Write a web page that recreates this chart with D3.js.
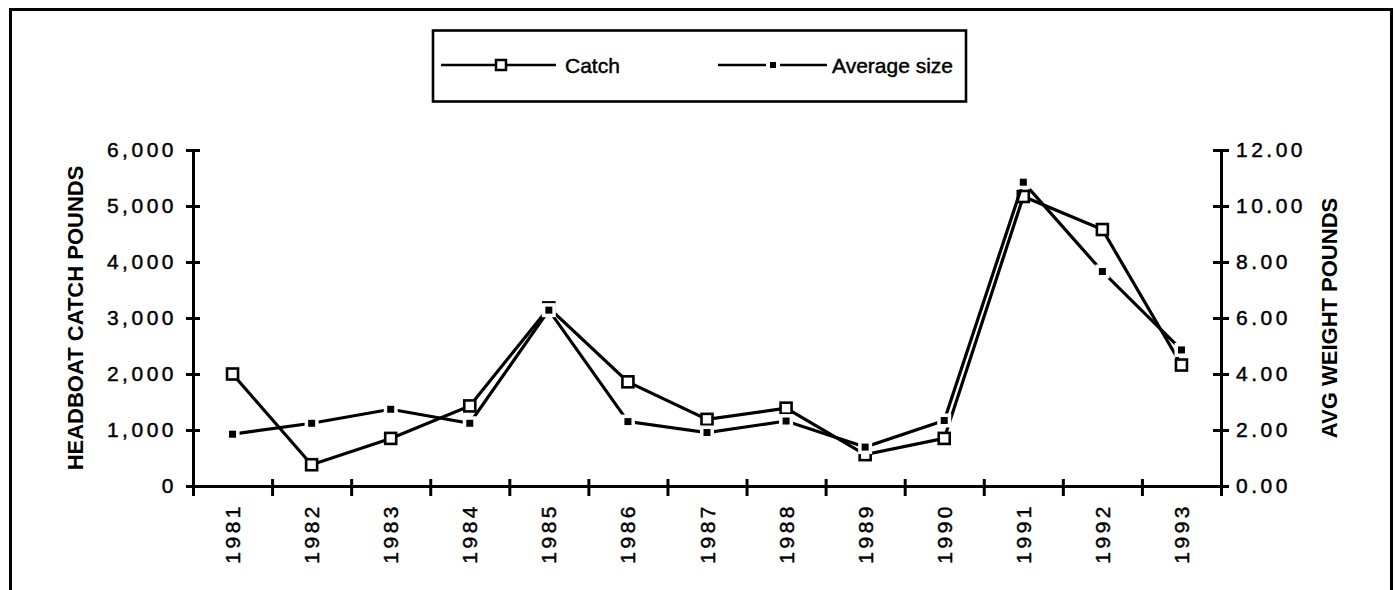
<!DOCTYPE html>
<html>
<head>
<meta charset="utf-8">
<script src="https://cdn.jsdelivr.net/npm/d3@7"></script>
<style>
  html, body { margin: 0; padding: 0; background: #fff; }
  svg { display: block; }
  text { font-family: "Liberation Sans", Arial, Helvetica, sans-serif; fill: #000; }
  .heavy { stroke: #000; stroke-width: 0.45px; }
</style>
</head>
<body>
<svg id="chart" width="1395" height="590"></svg>
<script>
// Headboat catch (pounds) and average fish weight (pounds) by year
const years = ["1981", "1982", "1983", "1984", "1985", "1986", "1987", "1988", "1989", "1990", "1991", "1992", "1993"];
const catchPounds = [2000, 380, 850, 1430, 3180, 1860, 1190, 1390, 560, 850, 5170, 4580, 2160];
const avgWeight = [1.85, 2.24, 2.74, 2.24, 6.28, 2.30, 1.91, 2.32, 1.39, 2.34, 10.85, 7.66, 4.86];
const leftTicks = [0, 1000, 2000, 3000, 4000, 5000, 6000];
const rightTicks = [0, 2, 4, 6, 8, 10, 12];
const seriesNames = ["Catch", "Average size"];

const svg = d3.select("#chart");

// Outer frame
svg.append("rect")
  .attr("x", 10.5).attr("y", 9.5)
  .attr("width", 1381).attr("height", 600)
  .attr("fill", "none").attr("stroke", "#000").attr("stroke-width", 3);

const plot = { left: 193, right: 1221, top: 150, bottom: 486 };

const x = d3.scaleBand().domain(years).range([plot.left, plot.right]).padding(0);
const xEdge = d3.scaleLinear().domain([0, years.length]).range([plot.left, plot.right]);
const yL = d3.scaleLinear().domain([0, 6000]).range([plot.bottom, plot.top]);
const yR = d3.scaleLinear().domain([0, 12]).range([plot.bottom, plot.top]);
const cx = d => x(d) + x.bandwidth() / 2;

const tickFont = { size: 21, spacing: 3.5 };

function styleTickText(sel) {
  sel.style("font-size", tickFont.size + "px")
    .style("letter-spacing", tickFont.spacing + "px")
    .attr("fill", "#000")
    .attr("class", "heavy");
}

// Left axis
const gL = svg.append("g").attr("transform", `translate(${plot.left},0)`)
  .call(d3.axisLeft(yL).tickValues(leftTicks).tickSize(7).tickPadding(9).tickFormat(d3.format(",")));
gL.select(".domain").attr("stroke-width", 3);
gL.selectAll(".tick line").attr("x1", 7).attr("stroke-width", 3);
styleTickText(gL.selectAll(".tick text"));

// Right axis
const gR = svg.append("g").attr("transform", `translate(${plot.right},0)`)
  .call(d3.axisRight(yR).tickValues(rightTicks).tickSize(8).tickPadding(7).tickFormat(d3.format(".2f")));
gR.select(".domain").attr("stroke-width", 3);
gR.selectAll(".tick line").attr("x1", -8).attr("stroke-width", 3);
styleTickText(gR.selectAll(".tick text"));

// Bottom axis: ticks on category boundaries
const gB = svg.append("g").attr("transform", `translate(0,${plot.bottom})`)
  .call(d3.axisBottom(xEdge).tickValues(d3.range(years.length + 1)).tickSize(10).tickFormat(""));
gB.select(".domain").attr("stroke-width", 3);
gB.selectAll(".tick line").attr("y1", -7).attr("stroke-width", 3);

// Year labels, rotated, centred in each category
styleTickText(svg.append("g").selectAll("text")
  .data(years)
  .join("text")
  .attr("transform", d => `translate(${cx(d)},${plot.bottom + 17}) rotate(-90)`)
  .attr("text-anchor", "end")
  .attr("dy", "0.36em")
  .text(d => d));

// Axis titles
svg.append("text")
  .attr("transform", `translate(75,${(plot.top + plot.bottom) / 2}) rotate(-90)`)
  .attr("text-anchor", "middle").attr("dy", "0.36em")
  .style("font-size", "22px").style("font-weight", "bold")
  .text("HEADBOAT CATCH POUNDS");

svg.append("text")
  .attr("transform", `translate(1329,${(plot.top + plot.bottom) / 2}) rotate(-90)`)
  .attr("text-anchor", "middle").attr("dy", "0.36em")
  .style("font-size", "22px").style("font-weight", "bold")
  .text("AVG WEIGHT POUNDS");

const rows = years.map((yr, i) => ({ yr, c: catchPounds[i], a: avgWeight[i] }));

// Catch series: thick line with open square markers
svg.append("path")
  .datum(rows)
  .attr("fill", "none").attr("stroke", "#000").attr("stroke-width", 3.2)
  .attr("d", d3.line().x(d => cx(d.yr)).y(d => yL(d.c)));

svg.append("g").selectAll("rect")
  .data(rows)
  .join("rect")
  .attr("x", d => cx(d.yr) - 5.5).attr("y", d => yL(d.c) - 5.5)
  .attr("width", 11).attr("height", 11)
  .attr("fill", "#fff").attr("stroke", "#000").attr("stroke-width", 2.6);

// Average size series: line broken around small filled markers
svg.append("path")
  .datum(rows)
  .attr("fill", "none").attr("stroke", "#000").attr("stroke-width", 3.2)
  .attr("d", d3.line().x(d => cx(d.yr)).y(d => yR(d.a)));

svg.append("g").selectAll("rect")
  .data(rows)
  .join("rect")
  .attr("x", d => cx(d.yr) - 7).attr("y", d => yR(d.a) - 7)
  .attr("width", 14).attr("height", 14)
  .attr("fill", "#fff");

svg.append("g").selectAll("rect")
  .data(rows)
  .join("rect")
  .attr("x", d => cx(d.yr) - 3.5).attr("y", d => yR(d.a) - 3.5)
  .attr("width", 7).attr("height", 7)
  .attr("fill", "#000");

// Legend
const legend = svg.append("g");
legend.append("rect")
  .attr("x", 433).attr("y", 30.5).attr("width", 533).attr("height", 71)
  .attr("fill", "#fff").attr("stroke", "#000").attr("stroke-width", 2.6);

const ly = 65;
// Catch entry
legend.append("line").attr("x1", 441).attr("x2", 556).attr("y1", ly).attr("y2", ly)
  .attr("stroke", "#000").attr("stroke-width", 2.5);
legend.append("rect").attr("x", 496).attr("y", ly - 5).attr("width", 10).attr("height", 10)
  .attr("fill", "#fff").attr("stroke", "#000").attr("stroke-width", 2.5);
legend.append("text").attr("x", 565).attr("y", ly).attr("dy", "0.36em")
  .attr("class", "heavy")
  .style("font-size", "21px").text(seriesNames[0]);

// Average size entry
legend.append("line").attr("x1", 718).attr("x2", 827).attr("y1", ly).attr("y2", ly)
  .attr("stroke", "#000").attr("stroke-width", 2.5);
legend.append("rect").attr("x", 766).attr("y", ly - 6).attr("width", 14).attr("height", 12)
  .attr("fill", "#fff");
legend.append("rect").attr("x", 770).attr("y", ly - 3).attr("width", 6).attr("height", 6)
  .attr("fill", "#000");
legend.append("text").attr("x", 832).attr("y", ly).attr("dy", "0.36em")
  .attr("class", "heavy")
  .style("font-size", "21px").text(seriesNames[1]);
</script>
</body>
</html>
